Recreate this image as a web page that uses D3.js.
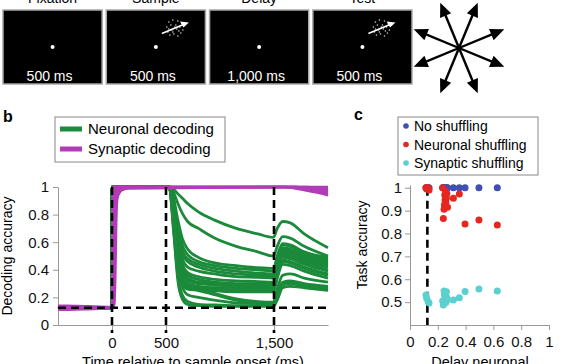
<!DOCTYPE html>
<html>
<head>
<meta charset="utf-8">
<script src="https://cdn.jsdelivr.net/npm/d3@7"></script>
<style>
  body { margin: 0; background: #fff; }
  svg { display: block; font-family: "Liberation Sans", Arial, Helvetica, sans-serif; }
</style>
</head>
<body>
<script>
// ---- panel a: task schematic ----
const epochNames = ['Fixation', 'Sample', 'Delay', 'Test'];
const epochDurations = ['500 ms', '500 ms', '1,000 ms', '500 ms'];
const motionEpochs = ['Sample', 'Test'];
const motionDirections = [22.5, 67.5, 112.5, 157.5, 202.5, 247.5, 292.5, 337.5];
const patchDots = [[-6, -6], [-2, -8], [3, -7], [7, -5], [-8, -1], [-4, -3], [1, -3], [5, -1],
  [8, 2], [-7, 4], [-3, 2], [2, 1], [6, 5], [-5, 7], [-1, 6], [3, 8], [0, -1], [-2, 4], [4, 3], [-6, 1]];

// ---- panel b: decoding accuracy over time ----
const timeTicks = [0, 500, 1500];
const accTicks = [0, 0.2, 0.4, 0.6, 0.8, 1];
const epochBoundaries = [0, 500, 1500];
const chanceLevel = 0.125;
const neuronalTimes = [-500, -250, -2, 2, 530, 570, 610, 650, 700, 800, 950, 1150, 1350, 1495, 1530, 1580, 1650, 1780, 2000];
const neuronalCurves = [
  [0.12, 0.13, 0.125, 1, 1, 0.985, 0.95, 0.92, 0.88, 0.82, 0.76, 0.70, 0.66, 0.635, 0.70, 0.75, 0.74, 0.66, 0.56],
  [0.13, 0.12, 0.125, 1, 1, 0.96, 0.88, 0.81, 0.75, 0.70, 0.63, 0.57, 0.53, 0.50, 0.57, 0.64, 0.63, 0.57, 0.50],
  [0.125, 0.125, 0.12, 1, 1, 0.92, 0.76, 0.63, 0.55, 0.49, 0.45, 0.43, 0.415, 0.41, 0.50, 0.59, 0.58, 0.53, 0.49],
  [0.12, 0.125, 0.13, 1, 1, 0.90, 0.72, 0.58, 0.51, 0.46, 0.43, 0.41, 0.40, 0.39, 0.48, 0.58, 0.57, 0.52, 0.48],
  [0.125, 0.13, 0.125, 1, 1, 0.89, 0.68, 0.54, 0.48, 0.44, 0.41, 0.39, 0.375, 0.37, 0.47, 0.56, 0.55, 0.51, 0.47],
  [0.13, 0.12, 0.125, 1, 1, 0.88, 0.66, 0.52, 0.46, 0.42, 0.39, 0.37, 0.36, 0.355, 0.45, 0.55, 0.54, 0.50, 0.46],
  [0.12, 0.125, 0.12, 1, 1, 0.86, 0.62, 0.48, 0.42, 0.39, 0.37, 0.35, 0.345, 0.34, 0.44, 0.54, 0.53, 0.49, 0.45],
  [0.125, 0.12, 0.13, 1, 1, 0.84, 0.58, 0.44, 0.38, 0.35, 0.33, 0.32, 0.315, 0.31, 0.42, 0.53, 0.52, 0.48, 0.44],
  [0.13, 0.125, 0.125, 1, 1, 0.83, 0.56, 0.42, 0.36, 0.33, 0.31, 0.30, 0.30, 0.30, 0.41, 0.52, 0.51, 0.47, 0.43],
  [0.12, 0.13, 0.12, 1, 1, 0.82, 0.54, 0.40, 0.34, 0.31, 0.30, 0.29, 0.29, 0.29, 0.40, 0.51, 0.50, 0.46, 0.42],
  [0.125, 0.125, 0.13, 1, 1, 0.80, 0.50, 0.37, 0.32, 0.30, 0.29, 0.28, 0.28, 0.28, 0.39, 0.50, 0.49, 0.45, 0.40],
  [0.13, 0.12, 0.125, 1, 1, 0.78, 0.48, 0.35, 0.30, 0.28, 0.27, 0.27, 0.27, 0.27, 0.38, 0.49, 0.48, 0.44, 0.39],
  [0.12, 0.125, 0.12, 1, 1, 0.76, 0.46, 0.33, 0.28, 0.27, 0.265, 0.26, 0.26, 0.26, 0.36, 0.47, 0.46, 0.42, 0.37],
  [0.125, 0.13, 0.125, 1, 1, 0.74, 0.44, 0.31, 0.27, 0.26, 0.25, 0.25, 0.25, 0.25, 0.35, 0.46, 0.45, 0.41, 0.36],
  [0.13, 0.125, 0.13, 1, 1, 0.72, 0.42, 0.30, 0.28, 0.27, 0.25, 0.24, 0.24, 0.24, 0.34, 0.44, 0.43, 0.39, 0.34],
  [0.12, 0.12, 0.125, 1, 1, 0.80, 0.50, 0.35, 0.29, 0.27, 0.23, 0.19, 0.17, 0.165, 0.26, 0.36, 0.37, 0.34, 0.31],
  [0.125, 0.13, 0.12, 1, 1, 0.75, 0.42, 0.28, 0.22, 0.20, 0.18, 0.16, 0.155, 0.15, 0.22, 0.31, 0.32, 0.30, 0.28],
  [0.13, 0.125, 0.125, 1, 1, 0.70, 0.36, 0.22, 0.17, 0.15, 0.145, 0.14, 0.14, 0.14, 0.20, 0.29, 0.30, 0.28, 0.26],
  [0.12, 0.12, 0.13, 1, 1, 0.68, 0.32, 0.19, 0.15, 0.14, 0.135, 0.135, 0.135, 0.135, 0.18, 0.27, 0.28, 0.27, 0.25],
  [0.125, 0.13, 0.125, 1, 1, 0.78, 0.46, 0.31, 0.26, 0.25, 0.22, 0.18, 0.155, 0.145, 0.21, 0.30, 0.31, 0.29, 0.27]
];
const synapticTimes = [-500, -250, -2, 0, 10, 20, 30, 40, 50, 70, 100, 150, 1600, 1700, 1800, 1900, 2000];
const synapticCurves = [
  [0.12, 0.125, 0.125, 0.125, 1, 1, 1, 1, 1, 1, 1, 1, 1, 1, 1, 1, 1],
  [0.13, 0.12, 0.13, 0.13, 0.6, 0.95, 0.98, 0.99, 1, 1, 1, 1, 1, 1, 0.995, 0.985, 0.97],
  [0.11, 0.115, 0.12, 0.12, 0.2, 0.7, 0.92, 0.96, 0.98, 0.99, 1, 1, 1, 0.995, 0.985, 0.97, 0.95],
  [0.125, 0.13, 0.12, 0.12, 0.13, 0.4, 0.85, 0.93, 0.96, 0.98, 0.99, 1, 1, 0.99, 0.975, 0.96, 0.94],
  [0.14, 0.135, 0.13, 0.13, 0.14, 0.2, 0.6, 0.88, 0.94, 0.97, 0.985, 0.995, 1, 1, 0.99, 0.98, 0.96],
  [0.115, 0.12, 0.125, 0.125, 0.13, 0.15, 0.35, 0.8, 0.92, 0.96, 0.98, 0.99, 1, 1, 1, 0.995, 0.985]
];

// ---- panel c: task accuracy vs delay decoding ----
const delayDecoding = [0.115, 0.12, 0.13, 0.137, 0.235, 0.24, 0.245, 0.247, 0.25, 0.252, 0.255, 0.258, 0.262, 0.265, 0.27, 0.312, 0.355, 0.396, 0.496, 0.628];
const accNoShuffle = [1, 1, 1, 1, 1, 1, 1, 1, 1, 1, 1, 1, 1, 1, 1, 1, 1, 1, 1, 1];
const accNeuronalShuffle = [1, 0.995, 1, 0.99, 1, 0.866, 0.906, 0.925, 0.968, 0.946, 0.985, 0.935, 0.955, 0.975, 0.915, 0.954, 0.973, 0.841, 0.859, 0.837];
const accSynapticShuffle = [0.531, 0.517, 0.502, 0.496, 0.505, 0.487, 0.549, 0.536, 0.514, 0.525, 0.532, 0.498, 0.545, 0.52, 0.51, 0.509, 0.519, 0.546, 0.557, 0.549];
const delayTicks = [0, 0.2, 0.4, 0.6, 0.8, 1];
const taskTicks = [0.5, 0.6, 0.7, 0.8, 0.9, 1];
const shuffleNames = ['No shuffling', 'Neuronal shuffling', 'Synaptic shuffling'];

const green = '#1b8a3a';
const magenta = '#b23cb8';
const shuffleColors = ['#3f4fb3', '#e5271f', '#5ccfcf'];
const axisGray = '#999';

const svg = d3.select('body')
    .append('svg')
    .attr('width', 572)
    .attr('height', 364);

// ================= panel a =================
const epochX = d3.scaleBand()
    .domain(epochNames)
    .range([3, 412])
    .paddingInner(0.04);

const epochs = svg.append('g');
epochs.selectAll('rect')
    .data(epochNames)
    .enter()
    .append('rect')
    .attr('x', d => epochX(d))
    .attr('y', 10)
    .attr('width', epochX.bandwidth())
    .attr('height', 74)
    .attr('fill', '#000')
    .attr('stroke', '#a8a8a8')
    .attr('stroke-width', 1.5);

// titles sit above the frame, mostly outside the picture (as in the original crop)
epochs.selectAll('text.title')
    .data(epochNames)
    .enter()
    .append('text')
    .attr('class', 'title')
    .attr('x', d => epochX(d) + epochX.bandwidth() / 2)
    .attr('y', 3)
    .attr('text-anchor', 'middle')
    .attr('font-size', 14)
    .text(d => d);

epochs.selectAll('text.dur')
    .data(epochNames)
    .enter()
    .append('text')
    .attr('class', 'dur')
    .attr('x', d => epochX(d) + epochX.bandwidth() / 2 - 3)
    .attr('y', 81)
    .attr('text-anchor', 'middle')
    .attr('font-size', 14)
    .attr('fill', '#fff')
    .text((d, i) => epochDurations[i]);

epochs.selectAll('circle.fix')
    .data(epochNames)
    .enter()
    .append('circle')
    .attr('class', 'fix')
    .attr('cx', d => epochX(d) + epochX.bandwidth() / 2)
    .attr('cy', 47)
    .attr('r', 2)
    .attr('fill', '#fff');

// random-dot motion patches
motionEpochs.forEach(name => {
    const cx = epochX(name) + epochX.bandwidth() / 2 + 19;
    const cy = 28;
    const patch = epochs.append('g').attr('transform', `translate(${cx},${cy})`);
    patch.selectAll('circle')
        .data(patchDots)
        .enter()
        .append('circle')
        .attr('cx', d => d[0])
        .attr('cy', d => d[1])
        .attr('r', 0.8)
        .attr('fill', '#ccc');
    patch.append('line')
        .attr('x1', -13).attr('y1', 5.5)
        .attr('x2', 8).attr('y2', -3.2)
        .attr('stroke', '#fff')
        .attr('stroke-width', 1.6);
    patch.append('path')
        .attr('d', 'M14,-5.6 L5.2,-6.6 L8.6,-0.4 Z')
        .attr('fill', '#fff');
});

// direction star
const star = svg.append('g').attr('transform', 'translate(459,48)');
const tipR = 49, headLen = 14, headHalf = 6;
motionDirections.forEach(deg => {
    const a = deg * Math.PI / 180;
    const ux = Math.cos(a), uy = -Math.sin(a);
    const bx = ux * (tipR - headLen), by = uy * (tipR - headLen);
    star.append('line')
        .attr('x1', 0).attr('y1', 0)
        .attr('x2', bx + ux * 2).attr('y2', by + uy * 2)
        .attr('stroke', '#000')
        .attr('stroke-width', 2.4);
    star.append('path')
        .attr('d', `M${ux * tipR},${uy * tipR} L${bx - uy * headHalf},${by + ux * headHalf} L${bx + uy * headHalf},${by - ux * headHalf} Z`)
        .attr('fill', '#000');
});

// ================= panel b =================
const x = d3.scaleLinear().domain([-500, 2000]).range([58, 328]);
const y = d3.scaleLinear().domain([0, 1]).range([325, 187]);

svg.append('text')
    .attr('x', 3).attr('y', 122)
    .attr('font-size', 16).attr('font-weight', 'bold')
    .text('b');

const axB = svg.append('g');
axB.append('g')
    .attr('transform', 'translate(0,325)')
    .call(d3.axisBottom(x).tickValues(timeTicks).tickFormat(d3.format(',')).tickSize(6).tickSizeOuter(0).tickPadding(6));
axB.append('g')
    .attr('transform', 'translate(58,0)')
    .call(d3.axisLeft(y).tickValues(accTicks).tickFormat(d => String(d)).tickSize(5).tickSizeOuter(0).tickPadding(4));
axB.selectAll('.domain, .tick line').attr('stroke', axisGray);
axB.selectAll('.tick text').attr('font-size', 15).attr('fill', '#111').attr('font-family', null);

const lineN = d3.line()
    .x((d, i) => x(neuronalTimes[i]))
    .y(d => y(d))
    .curve(d3.curveMonotoneX);
const lineS = d3.line()
    .x((d, i) => x(synapticTimes[i]))
    .y(d => y(d))
    .curve(d3.curveMonotoneX);

svg.append('g').selectAll('path')
    .data(neuronalCurves)
    .enter()
    .append('path')
    .attr('d', lineN)
    .attr('fill', 'none')
    .attr('stroke', green)
    .attr('stroke-width', 2.8);

svg.append('g').selectAll('path')
    .data(synapticCurves)
    .enter()
    .append('path')
    .attr('d', lineS)
    .attr('fill', 'none')
    .attr('stroke', magenta)
    .attr('stroke-width', 2.6);

// chance level and epoch boundaries
const dashes = svg.append('g')
    .attr('stroke', '#000')
    .attr('stroke-width', 2.6)
    .attr('stroke-dasharray', '8,5');
dashes.append('line')
    .attr('x1', x(-500)).attr('x2', x(2000))
    .attr('y1', y(chanceLevel)).attr('y2', y(chanceLevel));
dashes.selectAll('line.v')
    .data(epochBoundaries)
    .enter()
    .append('line')
    .attr('class', 'v')
    .attr('x1', d => x(d)).attr('x2', d => x(d))
    .attr('y1', y(1)).attr('y2', y(0) + 8);

svg.append('text')
    .attr('transform', 'translate(12,256) rotate(-90)')
    .attr('text-anchor', 'middle')
    .attr('font-size', 14)
    .text('Decoding accuracy');
svg.append('text')
    .attr('x', 193).attr('y', 367)
    .attr('text-anchor', 'middle')
    .attr('font-size', 14.5)
    .text('Time relative to sample onset (ms)');

// legend b
const legB = svg.append('g');
legB.append('rect')
    .attr('x', 55).attr('y', 117)
    .attr('width', 170).attr('height', 45)
    .attr('fill', '#fff')
    .attr('stroke', '#888');
[['Neuronal decoding', green], ['Synaptic decoding', magenta]].forEach((e, i) => {
    legB.append('line')
        .attr('x1', 60).attr('x2', 82)
        .attr('y1', 129 + i * 20).attr('y2', 129 + i * 20)
        .attr('stroke', e[1])
        .attr('stroke-width', 5);
    legB.append('text')
        .attr('x', 88).attr('y', 134 + i * 20)
        .attr('font-size', 15)
        .text(e[0]);
});

// ================= panel c =================
const xs = d3.scaleLinear().domain([0, 1]).range([410, 549]);
const ys = d3.scaleLinear().domain([0.4, 1.012]).range([325, 185]);

svg.append('text')
    .attr('x', 354).attr('y', 120)
    .attr('font-size', 16).attr('font-weight', 'bold')
    .text('c');

const axC = svg.append('g');
axC.append('g')
    .attr('transform', 'translate(0,325)')
    .call(d3.axisBottom(xs).tickValues(delayTicks).tickFormat(d => String(d)).tickSize(5).tickSizeOuter(0).tickPadding(6));
axC.append('g')
    .attr('transform', 'translate(410,0)')
    .call(d3.axisLeft(ys).tickValues(taskTicks).tickFormat(d => String(d)).tickSize(5).tickSizeOuter(0).tickPadding(3));
axC.selectAll('.domain, .tick line').attr('stroke', axisGray);
axC.selectAll('.tick text').attr('font-size', 15).attr('fill', '#111').attr('font-family', null);

svg.append('line')
    .attr('x1', xs(chanceLevel)).attr('x2', xs(chanceLevel))
    .attr('y1', ys(1)).attr('y2', ys(0.4))
    .attr('stroke', '#000')
    .attr('stroke-width', 2.6)
    .attr('stroke-dasharray', '8,5');

[accNoShuffle, accNeuronalShuffle, accSynapticShuffle].forEach((acc, k) => {
    svg.append('g').selectAll('circle')
        .data(acc)
        .enter()
        .append('circle')
        .attr('cx', (d, i) => xs(delayDecoding[i]))
        .attr('cy', d => ys(d))
        .attr('r', 3.5)
        .attr('fill', shuffleColors[k]);
});

svg.append('text')
    .attr('transform', `translate(367,${ys(0.75)}) rotate(-90)`)
    .attr('text-anchor', 'middle')
    .attr('font-size', 14)
    .text('Task accuracy');
svg.append('text')
    .attr('x', 480).attr('y', 367)
    .attr('text-anchor', 'middle')
    .attr('font-size', 14.5)
    .text('Delay neuronal');

// legend c
const legC = svg.append('g');
legC.append('rect')
    .attr('x', 398).attr('y', 117)
    .attr('width', 140).attr('height', 58)
    .attr('fill', '#fff')
    .attr('stroke', '#888');
shuffleNames.forEach((name, i) => {
    legC.append('circle')
        .attr('cx', 406).attr('cy', 126 + i * 18.5)
        .attr('r', 2.8)
        .attr('fill', shuffleColors[i]);
    legC.append('text')
        .attr('x', 414).attr('y', 131 + i * 18.5)
        .attr('font-size', 14)
        .text(name);
});
</script>
</body>
</html>
